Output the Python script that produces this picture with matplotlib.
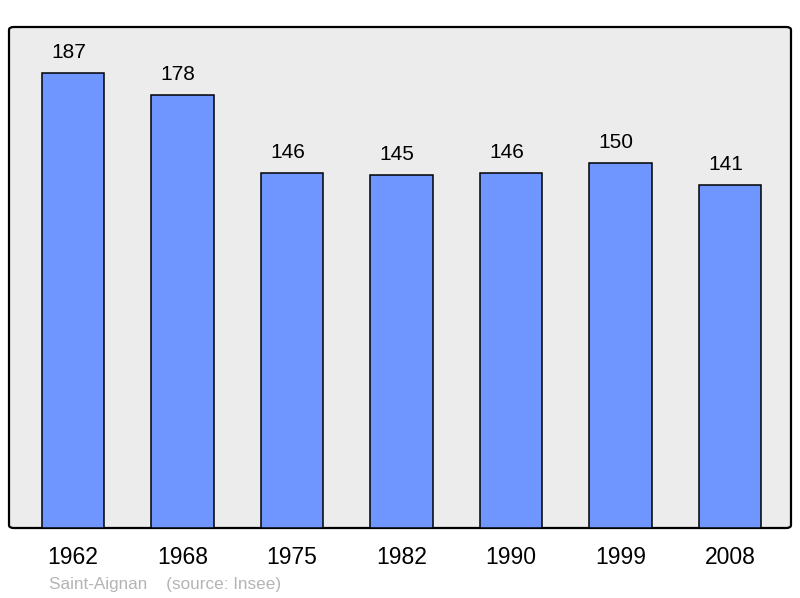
import matplotlib
matplotlib.use("Agg")
import matplotlib.pyplot as plt
from matplotlib.patches import FancyBboxPatch

plt.rcParams["font.family"] = ["Liberation Sans", "DejaVu Sans"]

years = ["1962", "1968", "1975", "1982", "1990", "1999", "2008"]
population = [187, 178, 146, 145, 146, 150, 141]

BAR_COLOR = "#6f96ff"
BG_COLOR = "#ececec"

fig = plt.figure(figsize=(8, 5.98), dpi=100)
ax = fig.add_axes([9 / 800, 1 - 528 / 598, 782 / 800, 501 / 598])
ax.set_facecolor("none")

# rounded frame behind the bars
frame = FancyBboxPatch((0, 0), 1, 1, boxstyle="round,pad=0,rounding_size=0.006",
                       transform=ax.transAxes, facecolor=BG_COLOR,
                       edgecolor="black", linewidth=1.6, zorder=0,
                       clip_on=False)
ax.add_patch(frame)

x = list(range(len(years)))
ax.bar(x, population, width=0.57, color=BAR_COLOR, edgecolor="black",
       linewidth=1.1, zorder=2)

for xi, v in zip(x, population):
    ax.annotate(str(v), (xi, v), xytext=(-3, 8), textcoords="offset points",
                ha="center", va="bottom", fontsize=15, color="black")

ax.set_xlim(-0.584, 6.557)
ax.set_ylim(0, 206)
for s in ax.spines.values():
    s.set_visible(False)
ax.set_yticks([])
ax.set_xticks(x)
ax.set_xticklabels(years, fontsize=16.5)
ax.tick_params(axis="x", length=0, pad=13)

fig.text(49 / 800, 1 - 584 / 598, "Saint-Aignan    (source: Insee)",
         fontsize=12.3, color="#b4b4b4", ha="left", va="center")

fig.savefig("out.png", dpi=100)
